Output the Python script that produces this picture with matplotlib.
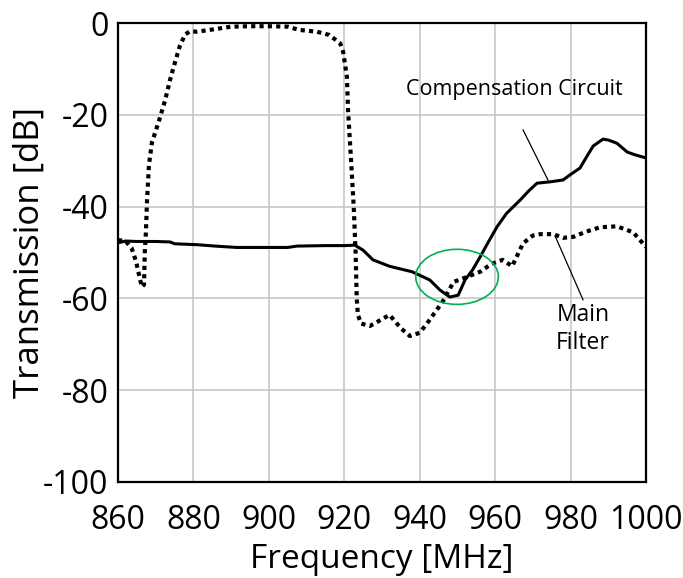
import matplotlib
matplotlib.use("Agg")
import matplotlib.pyplot as plt
from matplotlib.patches import Ellipse

plt.rcParams['font.family'] = ['Open Sans', 'DejaVu Sans']

# Main filter (dotted)
main_freq = [860, 862, 863.6, 864.8, 866.3, 866.9, 867.1, 867.4, 867.7, 868.2, 869.0, 869.8,
             871.1, 872.5, 873.8, 875.1, 876.4, 877.8, 879.1, 881.0, 886.0, 890, 895, 900, 905,
             908, 912.7, 916.0, 918.9, 919.7, 920.7, 921.0, 921.8, 922.5, 923.0, 923.3, 923.6,
             924.5, 926.8, 929, 932, 935, 937.4, 940, 942, 946, 949, 952, 956, 959, 962, 964.5,
             967.4, 970, 972, 975.4, 978, 980.7, 984, 987.8, 992.3, 996.6, 1000]
main_db = [-47.3, -47.5, -49, -52, -57.5, -57, -50, -45.6, -38.6, -31, -26, -24,
           -20.7, -16.8, -12.4, -8.6, -5, -2.5, -1.8, -1.9, -1.3, -0.8, -0.7, -0.7, -0.8,
           -1.5, -1.9, -2.6, -4.4, -6.3, -11.8, -19, -30, -40, -50, -60, -63.6,
           -65.5, -66, -65, -63.6, -66.5, -68.2, -67.5, -65.4, -60.8, -56.4, -55.5, -54.2, -52.5, -51.6, -53,
           -48, -46.3, -46, -46, -46.8, -46.6, -45.5, -44.5, -44.3, -45.6, -48.8]

# Compensation circuit (solid)
comp_freq = [860, 862, 865, 870, 873.8, 875, 881, 885.7, 891.5, 895, 900, 905, 907.5, 915, 920,
             922.8, 925, 927.6, 932, 935, 938, 942.7, 945.4, 948, 950.2, 952, 954, 956, 958,
             960.5, 963, 966.6, 969, 971.1, 974.6, 978, 980, 982.5, 984, 986, 988.6, 990,
             992.3, 995, 997, 1000]
comp_db = [-47.9, -47.5, -47.6, -47.6, -47.7, -48.1, -48.3, -48.6, -48.9, -48.9, -48.9, -48.9, -48.6, -48.5, -48.5,
           -48.4, -49.5, -51.6, -53, -53.6, -54.2, -56, -58.2, -59.7, -59.3, -56, -53.8, -51, -48,
           -44.4, -41.5, -38.6, -36.5, -34.9, -34.6, -34.2, -33, -31.6, -29.5, -26.8, -25.3, -25.5,
           -26.2, -28.1, -28.7, -29.4]

x_ticks = [860, 880, 900, 920, 940, 960, 980, 1000]
y_ticks = [0, -20, -40, -60, -80, -100]

fig = plt.figure(figsize=(6.83, 5.78), dpi=100)
ax = fig.add_axes([118/683, 1 - 482/578, (646 - 118)/683, (482 - 23)/578])

ax.plot(main_freq, main_db, color='black', lw=3.0, linestyle=(0, (1, 1)),
        dash_capstyle='butt', zorder=3)
ax.plot(comp_freq, comp_db, color='black', lw=2.2, solid_joinstyle='round', zorder=4)

ax.add_patch(Ellipse((949.9, -55.3), 21.9, 12.0, fill=False, edgecolor='#00B050', lw=1.2, zorder=5))

ax.set_xlim(860, 1000)
ax.set_ylim(-100, 0)
ax.set_xticks(x_ticks)
ax.set_yticks(y_ticks)
ax.set_xticklabels([str(v) for v in x_ticks])
ax.set_yticklabels([str(v) for v in y_ticks])
ax.tick_params(length=0, labelsize=23)
ax.tick_params(axis='x', pad=16)
ax.tick_params(axis='y', pad=7)
ax.grid(True, color='#c8c8c8', lw=1.2)
ax.set_axisbelow(True)
for s in ax.spines.values():
    s.set_linewidth(1.6)
    s.set_color('black')

ax.set_xlabel('Frequency [MHz]', fontsize=24, labelpad=4)
ax.set_ylabel('Transmission [dB]', fontsize=25, labelpad=-3)

ax.text(965.1, -14.4, 'Compensation Circuit', fontsize=15.5, ha='center', va='center', zorder=6)
ax.plot([967.4, 974.0], [-23.3, -34.2], color='black', lw=0.9, zorder=6)
ax.text(983.3, -66.7, 'Main\nFilter', fontsize=16.5, ha='center', va='center', linespacing=1.25, zorder=6)
ax.plot([975.9, 983.3], [-46.4, -60.3], color='black', lw=0.9, zorder=6)

fig.savefig('out.png', dpi=100)
